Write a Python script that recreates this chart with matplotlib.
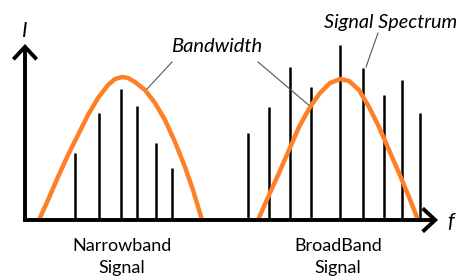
import matplotlib
matplotlib.use("Agg")
import matplotlib.pyplot as plt

# ---- data (frequency units ~ horizontal position, amplitude above baseline) ----
narrow_freqs = [75, 99, 121, 137, 156, 172]
narrow_amps = [67, 107, 131, 114, 77, 52]

broad_freqs = [248, 269, 290, 311, 340, 363, 384, 402, 420]
broad_amps = [87, 113, 153, 133, 175, 152, 125, 140, 107]

narrow_env_f = [39, 48, 58, 68, 78, 88, 98, 108, 115, 122, 128, 135, 145, 155, 165, 175, 185, 193, 202]
narrow_env_a = [0, 20, 43, 65, 85, 105, 122, 135, 141, 143, 142, 138, 130, 117, 100, 78, 53, 30, 0]

broad_env_f = [258, 269, 279, 289, 299, 310, 320, 330, 340, 349, 359, 369, 379, 389, 399, 409, 418]
broad_env_a = [0, 25, 47, 70, 93, 113, 127, 137, 141, 139, 130, 113, 93, 70, 47, 23, 0]

group_labels = [["Narrowband", "Signal"], ["BroadBand", "Signal"]]
group_centers = [122, 338]

ORANGE = "#FF7F27"

fig = plt.figure(figsize=(4.62, 2.76), dpi=100)
ax = fig.add_axes([0, 0, 1, 1])
ax.set_xlim(0, 462)
ax.set_ylim(-56, 220)
ax.axis("off")

# spectral lines
ax.vlines(narrow_freqs, 0, narrow_amps, color="black", lw=1.8, zorder=2)
ax.vlines(broad_freqs, 0, broad_amps, color="black", lw=1.8, zorder=2)

# envelopes
ax.plot(narrow_env_f, narrow_env_a, color=ORANGE, lw=3.2, solid_capstyle="butt",
        solid_joinstyle="round", zorder=3)
ax.plot(broad_env_f, broad_env_a, color=ORANGE, lw=3.2, solid_capstyle="butt",
        solid_joinstyle="round", zorder=3)

# axes with open arrow heads
arrow_kw = dict(arrowstyle="->,head_length=0.45,head_width=0.42", lw=2.8,
                color="black", mutation_scale=20, shrinkA=0, shrinkB=0,
                joinstyle="miter", capstyle="butt")
ax.annotate("", xy=(25, 176), xytext=(25, -2), arrowprops=arrow_kw, zorder=4)
ax.annotate("", xy=(438, 0), xytext=(23, 0), arrowprops=arrow_kw, zorder=4)

fam = ["Lato", "DejaVu Sans"]
ax.text(25, 183, "I", fontsize=15, style="italic", family=fam, ha="center",
        va="baseline")
ax.text(451, -8, "f", fontsize=15, style="italic", family=fam, ha="center",
        va="baseline")

# group labels
for lines, cx in zip(group_labels, group_centers):
    ax.text(cx, -31, lines[0], fontsize=13, family=fam, ha="center", va="baseline")
    ax.text(cx, -53, lines[1], fontsize=13, family=fam, ha="center", va="baseline")

# annotations
ax.text(217, 168, "Bandwidth", fontsize=14.5, style="italic", family=fam,
        ha="center", va="baseline")
ax.plot([172, 147], [158, 131], color="#555555", lw=0.8)
ax.plot([258, 311], [158, 113], color="#555555", lw=0.8)

ax.text(391, 192, "Signal Spectrum", fontsize=14.3, style="italic", family=fam,
        ha="center", va="baseline")
ax.plot([378, 366], [187, 153], color="#555555", lw=0.8)

fig.savefig("out.png", dpi=100)
